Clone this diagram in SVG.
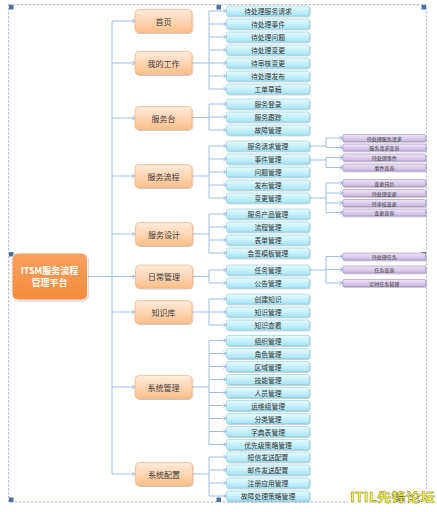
<svg xmlns="http://www.w3.org/2000/svg" width="437" height="512" viewBox="0 0 437 512">
<defs>
<linearGradient id="gL1" x1="0" y1="0" x2="0" y2="1"><stop offset="0" stop-color="#FFEBDC"/><stop offset="1" stop-color="#FBBF8A"/></linearGradient>
<linearGradient id="gL2" x1="0" y1="0" x2="0" y2="1"><stop offset="0" stop-color="#E9FBFE"/><stop offset="1" stop-color="#A6E5F4"/></linearGradient>
<linearGradient id="gL3" x1="0" y1="0" x2="0" y2="1"><stop offset="0" stop-color="#EEE6F5"/><stop offset="1" stop-color="#C9B8E0"/></linearGradient>
<linearGradient id="gRoot" x1="0" y1="0" x2="0" y2="1"><stop offset="0" stop-color="#F8A060"/><stop offset="1" stop-color="#F48B3C"/></linearGradient>
<filter id="sh" x="-20%" y="-30%" width="140%" height="170%"><feDropShadow dx="0.6" dy="1" stdDeviation="0.6" flood-color="#000" flood-opacity="0.25"/></filter>
<marker id="ar" markerWidth="6" markerHeight="6" refX="4" refY="3" orient="auto" markerUnits="userSpaceOnUse"><path d="M1,1 L4,3 L1,5" fill="none" stroke="#8FB0DA" stroke-width="0.8"/></marker>
</defs>
<style>
.l1 rect{fill:url(#gL1);stroke:#F6B27A;stroke-width:0.7;filter:url(#sh)}
.l1 text{font-family:"Noto Sans CJK SC","Noto Sans",sans-serif;font-size:8px;fill:#3b3b3b;text-anchor:middle;dominant-baseline:central}
.l2 rect{fill:url(#gL2);stroke:#7FCCE2;stroke-width:0.6;filter:url(#sh)}
.l2 text{font-family:"Noto Sans CJK SC","Noto Sans",sans-serif;font-size:6.8px;fill:#333;text-anchor:middle;dominant-baseline:central}
.l3 rect{fill:url(#gL3);stroke:#9C87C2;stroke-width:0.6;filter:url(#sh)}
.l3 text{font-family:"Noto Sans CJK SC","Noto Sans",sans-serif;font-size:5px;fill:#333;text-anchor:middle;dominant-baseline:central}
.root rect{fill:url(#gRoot);stroke:#F0F0F0;stroke-width:1;filter:url(#sh)}
.root text{font-family:"Noto Sans CJK SC","Noto Sans",sans-serif;font-size:9px;font-weight:bold;fill:#fff;text-anchor:middle}
.cn path{fill:none;stroke:#A3BDE2;stroke-width:1}
.cn .a{marker-end:url(#ar)}
.hd{fill:#50709A}
</style>

<!-- frame -->
<rect x="8.7" y="4.7" width="417.6" height="497.3" fill="none" stroke="#8CA0BC" stroke-width="0.8" stroke-dasharray="2.5,1.5"/>
<g id="handles">
<rect class="hd" x="9" y="5" width="4.5" height="4.5"/>
<rect class="hd" x="216.5" y="5" width="4.5" height="4.5"/>
<rect class="hd" x="421.5" y="5" width="4.5" height="4.5"/>
<rect class="hd" x="9" y="252" width="4.5" height="4.5"/>
<rect class="hd" x="421.5" y="252" width="4.5" height="4.5"/>
<rect class="hd" x="9" y="497.5" width="4.5" height="4.5"/>
<rect class="hd" x="216.5" y="497.5" width="4.5" height="4.5"/>
</g>

<g id="connectors" class="cn">
<!-- root to trunk -->
<path d="M87,276.5 H112"/>
<path d="M112,21 V474"/>
<path class="a" d="M112,21 H135"/>
<path class="a" d="M112,63 H135"/>
<path class="a" d="M112,118 H135"/>
<path class="a" d="M112,176 H135"/>
<path class="a" d="M112,234 H135"/>
<path class="a" d="M112,276.5 H135"/>
<path class="a" d="M112,312 H135"/>
<path class="a" d="M112,387 H135"/>
<path class="a" d="M112,474 H135"/>
<!-- level 2 brackets -->
<path d="M192,63 H209 M209,11 V89"/>
<path d="M192,117.5 H209 M209,104 V130"/>
<path d="M192,176 H209 M209,146 V198"/>
<path d="M192,234 H209 M209,214 V253"/>
<path d="M192,276.5 H209 M209,270 V283"/>
<path d="M192,312 H209 M209,299 V325"/>
<path d="M192,387 H209 M209,340.5 V444.5"/>
<path d="M192,474 H209 M209,457 V496"/>
<path class="a" d="M209,11 H226.5"/>
<path class="a" d="M209,24 H226.5"/>
<path class="a" d="M209,37 H226.5"/>
<path class="a" d="M209,50 H226.5"/>
<path class="a" d="M209,63 H226.5"/>
<path class="a" d="M209,76 H226.5"/>
<path class="a" d="M209,89 H226.5"/>
<path class="a" d="M209,104 H226.5"/>
<path class="a" d="M209,117 H226.5"/>
<path class="a" d="M209,130 H226.5"/>
<path class="a" d="M209,146 H226.5"/>
<path class="a" d="M209,159 H226.5"/>
<path class="a" d="M209,172 H226.5"/>
<path class="a" d="M209,185 H226.5"/>
<path class="a" d="M209,198 H226.5"/>
<path class="a" d="M209,214 H226.5"/>
<path class="a" d="M209,227 H226.5"/>
<path class="a" d="M209,240 H226.5"/>
<path class="a" d="M209,253 H226.5"/>
<path class="a" d="M209,270 H226.5"/>
<path class="a" d="M209,283 H226.5"/>
<path class="a" d="M209,299 H226.5"/>
<path class="a" d="M209,312 H226.5"/>
<path class="a" d="M209,325 H226.5"/>
<path class="a" d="M209,340.5 H226.5"/>
<path class="a" d="M209,353.5 H226.5"/>
<path class="a" d="M209,366.5 H226.5"/>
<path class="a" d="M209,379.5 H226.5"/>
<path class="a" d="M209,392.5 H226.5"/>
<path class="a" d="M209,405.5 H226.5"/>
<path class="a" d="M209,418.5 H226.5"/>
<path class="a" d="M209,431.5 H226.5"/>
<path class="a" d="M209,444.5 H226.5"/>
<path class="a" d="M209,457 H226.5"/>
<path class="a" d="M209,470 H226.5"/>
<path class="a" d="M209,483 H226.5"/>
<path class="a" d="M209,496 H226.5"/>
<!-- level 3 brackets -->
<path d="M309.5,146 H326 M326,138 V147.5"/>
<path d="M309.5,160 H326 M326,157.5 V167.5"/>
<path d="M309.5,198 H326 M326,183 V212.5"/>
<path d="M309.5,270 H326 M326,256.5 V283"/>
<path class="a" d="M326,138 H342.7"/>
<path class="a" d="M326,147.5 H342.7"/>
<path class="a" d="M326,157.5 H342.7"/>
<path class="a" d="M326,167.5 H342.7"/>
<path class="a" d="M326,183 H342.7"/>
<path class="a" d="M326,193 H342.7"/>
<path class="a" d="M326,203 H342.7"/>
<path class="a" d="M326,212.5 H342.7"/>
<path class="a" d="M326,256.5 H342.7"/>
<path class="a" d="M326,269.5 H342.7"/>
<path class="a" d="M326,283 H342.7"/>
</g>

<g id="root" class="root">
<rect x="12" y="253" width="75.5" height="47" rx="6"/>
<text x="49.5" y="273.5">ITSM服务流程</text>
<text x="49.5" y="286">管理平台</text>
</g>

<g id="n-shouye" class="l1"><rect x="135" y="9.5" width="57" height="23" rx="4"/><text x="163.5" y="21">首页</text></g>
<g id="n-wodegongzuo" class="l1"><rect x="135" y="51.5" width="57" height="23" rx="4"/><text x="163.5" y="63">我的工作</text></g>
<g id="n-fuwutai" class="l1"><rect x="135" y="106.5" width="57" height="23" rx="4"/><text x="163.5" y="118">服务台</text></g>
<g id="n-fuwuliucheng" class="l1"><rect x="135" y="164.5" width="57" height="23" rx="4"/><text x="163.5" y="176">服务流程</text></g>
<g id="n-fuwusheji" class="l1"><rect x="135.5" y="222.5" width="57" height="23" rx="4"/><text x="164" y="234">服务设计</text></g>
<g id="n-richangguanli" class="l1"><rect x="135.5" y="265" width="57" height="23" rx="4"/><text x="164" y="276.5">日常管理</text></g>
<g id="n-zhishiku" class="l1"><rect x="135" y="300.5" width="57" height="23" rx="4"/><text x="163.5" y="312">知识库</text></g>
<g id="n-xitongguanli" class="l1"><rect x="135" y="375.5" width="57" height="23" rx="4"/><text x="163.5" y="387">系统管理</text></g>
<g id="n-xitongpeizhi" class="l1"><rect x="135.5" y="462.5" width="57" height="23" rx="4"/><text x="164" y="474">系统配置</text></g>

<g id="l2-nodes">
<g id="n2-1" class="l2"><rect x="226.5" y="6" width="83" height="10" rx="2"/><text x="268" y="11">待处理服务请求</text></g>
<g id="n2-2" class="l2"><rect x="226.5" y="19" width="83" height="10" rx="2"/><text x="268" y="24">待处理事件</text></g>
<g id="n2-3" class="l2"><rect x="226.5" y="32" width="83" height="10" rx="2"/><text x="268" y="37">待处理问题</text></g>
<g id="n2-4" class="l2"><rect x="226.5" y="45" width="83" height="10" rx="2"/><text x="268" y="50">待处理变更</text></g>
<g id="n2-5" class="l2"><rect x="226.5" y="58" width="83" height="10" rx="2"/><text x="268" y="63">待审核变更</text></g>
<g id="n2-6" class="l2"><rect x="226.5" y="71" width="83" height="10" rx="2"/><text x="268" y="76">待处理发布</text></g>
<g id="n2-7" class="l2"><rect x="226.5" y="84" width="83" height="10" rx="2"/><text x="268" y="89">工单草稿</text></g>
<g id="n2-8" class="l2"><rect x="226.5" y="99" width="83" height="10" rx="2"/><text x="268" y="104">服务登录</text></g>
<g id="n2-9" class="l2"><rect x="226.5" y="112" width="83" height="10" rx="2"/><text x="268" y="117">服务跟踪</text></g>
<g id="n2-10" class="l2"><rect x="226.5" y="125" width="83" height="10" rx="2"/><text x="268" y="130">故障管理</text></g>
<g id="n2-11" class="l2"><rect x="226.5" y="141" width="83" height="10" rx="2"/><text x="268" y="146">服务请求管理</text></g>
<g id="n2-12" class="l2"><rect x="226.5" y="154" width="83" height="10" rx="2"/><text x="268" y="159">事件管理</text></g>
<g id="n2-13" class="l2"><rect x="226.5" y="167" width="83" height="10" rx="2"/><text x="268" y="172">问题管理</text></g>
<g id="n2-14" class="l2"><rect x="226.5" y="180" width="83" height="10" rx="2"/><text x="268" y="185">发布管理</text></g>
<g id="n2-15" class="l2"><rect x="226.5" y="193" width="83" height="10" rx="2"/><text x="268" y="198">变更管理</text></g>
<g id="n2-16" class="l2"><rect x="226.5" y="209" width="83" height="10" rx="2"/><text x="268" y="214">服务产品管理</text></g>
<g id="n2-17" class="l2"><rect x="226.5" y="222" width="83" height="10" rx="2"/><text x="268" y="227">流程管理</text></g>
<g id="n2-18" class="l2"><rect x="226.5" y="235" width="83" height="10" rx="2"/><text x="268" y="240">表单管理</text></g>
<g id="n2-19" class="l2"><rect x="226.5" y="248" width="83" height="10" rx="2"/><text x="268" y="253">会签模板管理</text></g>
<g id="n2-20" class="l2"><rect x="226.5" y="265" width="83" height="10" rx="2"/><text x="268" y="270">任务管理</text></g>
<g id="n2-21" class="l2"><rect x="226.5" y="278" width="83" height="10" rx="2"/><text x="268" y="283">公告管理</text></g>
<g id="n2-22" class="l2"><rect x="226.5" y="294" width="83" height="10" rx="2"/><text x="268" y="299">创建知识</text></g>
<g id="n2-23" class="l2"><rect x="226.5" y="307" width="83" height="10" rx="2"/><text x="268" y="312">知识管理</text></g>
<g id="n2-24" class="l2"><rect x="226.5" y="320" width="83" height="10" rx="2"/><text x="268" y="325">知识查看</text></g>
<g id="n2-25" class="l2"><rect x="226.5" y="335.5" width="83" height="10" rx="2"/><text x="268" y="340.5">组织管理</text></g>
<g id="n2-26" class="l2"><rect x="226.5" y="348.5" width="83" height="10" rx="2"/><text x="268" y="353.5">角色管理</text></g>
<g id="n2-27" class="l2"><rect x="226.5" y="361.5" width="83" height="10" rx="2"/><text x="268" y="366.5">区域管理</text></g>
<g id="n2-28" class="l2"><rect x="226.5" y="374.5" width="83" height="10" rx="2"/><text x="268" y="379.5">技能管理</text></g>
<g id="n2-29" class="l2"><rect x="226.5" y="387.5" width="83" height="10" rx="2"/><text x="268" y="392.5">人员管理</text></g>
<g id="n2-30" class="l2"><rect x="226.5" y="400.5" width="83" height="10" rx="2"/><text x="268" y="405.5">运维组管理</text></g>
<g id="n2-31" class="l2"><rect x="226.5" y="413.5" width="83" height="10" rx="2"/><text x="268" y="418.5">分类管理</text></g>
<g id="n2-32" class="l2"><rect x="226.5" y="426.5" width="83" height="10" rx="2"/><text x="268" y="431.5">字典表管理</text></g>
<g id="n2-33" class="l2"><rect x="226.5" y="439.5" width="83" height="10" rx="2"/><text x="268" y="444.5">优先级策略管理</text></g>
<g id="n2-34" class="l2"><rect x="226.5" y="452" width="83" height="10" rx="2"/><text x="268" y="457">短信发送配置</text></g>
<g id="n2-35" class="l2"><rect x="226.5" y="465" width="83" height="10" rx="2"/><text x="268" y="470">邮件发送配置</text></g>
<g id="n2-36" class="l2"><rect x="226.5" y="478" width="83" height="10" rx="2"/><text x="268" y="483">注册应用管理</text></g>
<g id="n2-37" class="l2"><rect x="226.5" y="491" width="83" height="10" rx="2"/><text x="268" y="496">故障处理策略管理</text></g>
</g>

<g id="l3-nodes">
<g id="n3-1" class="l3"><rect x="342.7" y="134.5" width="83" height="7" rx="1.5"/><text x="384.2" y="138">待处理服务请求</text></g>
<g id="n3-2" class="l3"><rect x="342.7" y="144" width="83" height="7" rx="1.5"/><text x="384.2" y="147.5">服务请求查询</text></g>
<g id="n3-3" class="l3"><rect x="342.7" y="154" width="83" height="7" rx="1.5"/><text x="384.2" y="157.5">待处理事件</text></g>
<g id="n3-4" class="l3"><rect x="342.7" y="164" width="83" height="7" rx="1.5"/><text x="384.2" y="167.5">事件查询</text></g>
<g id="n3-5" class="l3"><rect x="342.7" y="179.5" width="83" height="7" rx="1.5"/><text x="384.2" y="183">变更日历</text></g>
<g id="n3-6" class="l3"><rect x="342.7" y="189.5" width="83" height="7" rx="1.5"/><text x="384.2" y="193">待处理变更</text></g>
<g id="n3-7" class="l3"><rect x="342.7" y="199.5" width="83" height="7" rx="1.5"/><text x="384.2" y="203">待审核变更</text></g>
<g id="n3-8" class="l3"><rect x="342.7" y="209" width="83" height="7" rx="1.5"/><text x="384.2" y="212.5">变更查询</text></g>
<g id="n3-9" class="l3"><rect x="342.7" y="253" width="83" height="7" rx="1.5"/><text x="384.2" y="256.5">待处理任务</text></g>
<g id="n3-10" class="l3"><rect x="342.7" y="266" width="83" height="7" rx="1.5"/><text x="384.2" y="269.5">任务查询</text></g>
<g id="n3-11" class="l3"><rect x="342.7" y="279.5" width="83" height="7" rx="1.5"/><text x="384.2" y="283">定时任务管理</text></g>
</g>

<g id="watermark">
<rect x="348" y="489" width="89" height="16" fill="#fff"/>
<text x="350" y="502" font-family="'Noto Sans CJK SC','Noto Sans',sans-serif" font-size="12.5px" font-weight="bold" fill="#FFFF22" stroke="#555" stroke-width="0.35" textLength="85" lengthAdjust="spacingAndGlyphs">ITIL先锋论坛</text>
</g>
</svg>
